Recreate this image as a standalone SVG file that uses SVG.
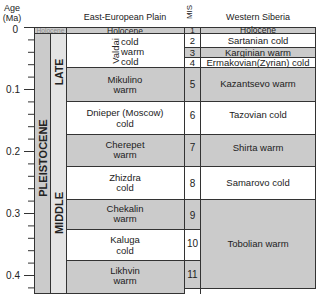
<svg xmlns="http://www.w3.org/2000/svg" width="320" height="298" viewBox="0 0 320 298">
<style>
text{font-family:"Liberation Sans",Arial,sans-serif;fill:#222;font-size:9.5px}
.c{text-anchor:middle}
.g{fill:#cbcbcb;stroke:#333;stroke-width:1}
.w{fill:#fff;stroke:#333;stroke-width:1}
.l{fill:#e4e4e4;stroke:#333;stroke-width:1}
.b{font-weight:bold;font-size:11px}
.t{stroke:#333;stroke-width:1}
.h{font-size:9px}
</style>
<rect width="320" height="298" fill="#fff"/>
<g id="headers">
<text x="12" y="11" class="c h">Age</text>
<text x="12" y="21" class="c h">(Ma)</text>
<text x="125" y="20" class="c h">East-European Plain</text>
<text transform="translate(192,12) rotate(-90)" class="c" style="font-size:8px">MIS</text>
<text x="258" y="20" class="c h">Western Siberia</text>
</g>
<g id="axis">
<line class="t" x1="34.5" y1="27" x2="34.5" y2="294"/>
<path class="t" d="M24 27.5H34M28 39.9H34M28 52.3H34M28 64.7H34M28 77.1H34M24 89.5H34M28 101.9H34M28 114.3H34M28 126.7H34M28 139.1H34M24 151.5H34M28 163.9H34M28 176.3H34M28 188.7H34M28 201.1H34M24 213.5H34M28 225.9H34M28 238.3H34M28 250.7H34M28 263.1H34M24 275.5H34M28 287.9H34"/>
<text x="18" y="33" text-anchor="end" style="font-size:10px">0</text>
<text x="20" y="93" text-anchor="end" style="font-size:10px">0.1</text>
<text x="20" y="155" text-anchor="end" style="font-size:10px">0.2</text>
<text x="20" y="217" text-anchor="end" style="font-size:10px">0.3</text>
<text x="20" y="279" text-anchor="end" style="font-size:10px">0.4</text>
</g>
<g id="epoch">
<rect class="g" x="34.5" y="27.5" width="32" height="6"/>
<text x="50.5" y="32.8" class="c" style="font-size:6.6px;fill:#8a8a8a">Holocene</text>
<rect class="g" x="34.5" y="33.5" width="16" height="260"/>
<text transform="translate(47,158) rotate(-90)" class="c b">PLEISTOCENE</text>
</g>
<g id="subepoch">
<rect class="l" x="50.5" y="33.5" width="16" height="260"/>
<text transform="translate(63,72) rotate(-90)" class="c b" style="font-size:10.5px">LATE</text>
<text transform="translate(63,213) rotate(-90)" class="c b">MIDDLE</text>
</g>
<g id="eep">
<rect class="g" x="66.5" y="27.5" width="118" height="6"/>
<text x="125" y="33.5" class="c" style="font-size:8.5px">Holocene</text>
<rect class="w" x="66.5" y="33.5" width="118" height="34"/>
<text transform="translate(119,51) rotate(-90)" class="c">Valdai</text>
<text x="121" y="45">cold</text>
<text x="121" y="55">warm</text>
<text x="121" y="65">cold</text>
<rect class="g" x="66.5" y="67.5" width="118" height="34"/>
<text x="125" y="83" class="c">Mikulino</text>
<text x="125" y="93" class="c">warm</text>
<rect class="w" x="66.5" y="101.5" width="118" height="33"/>
<text x="125" y="116" class="c">Dnieper (Moscow)</text>
<text x="125" y="127" class="c">cold</text>
<rect class="g" x="66.5" y="134.5" width="118" height="32"/>
<text x="125" y="148" class="c">Cherepet</text>
<text x="125" y="158" class="c">warm</text>
<rect class="w" x="66.5" y="166.5" width="118" height="33"/>
<text x="125" y="181" class="c">Zhizdra</text>
<text x="125" y="191" class="c">cold</text>
<rect class="g" x="66.5" y="199.5" width="118" height="30"/>
<text x="125" y="212" class="c">Chekalin</text>
<text x="125" y="222" class="c">warm</text>
<rect class="w" x="66.5" y="229.5" width="118" height="31"/>
<text x="125" y="243" class="c">Kaluga</text>
<text x="125" y="254" class="c">cold</text>
<rect class="g" x="66.5" y="260.5" width="118" height="33"/>
<text x="125" y="274" class="c">Likhvin</text>
<text x="125" y="284" class="c">warm</text>
</g>
<g id="mis">
<line class="t" x1="184.5" y1="289" x2="184.5" y2="294"/>
<line class="t" x1="200.5" y1="289" x2="200.5" y2="294"/>
<rect class="g" x="184.5" y="27.5" width="16" height="6"/>
<text x="192.5" y="33.3" class="c" style="font-size:8px">1</text>
<rect class="w" x="184.5" y="33.5" width="16" height="14"/>
<text x="192.5" y="44" class="c">2</text>
<rect class="g" x="184.5" y="47.5" width="16" height="10"/>
<text x="192.5" y="56" class="c">3</text>
<rect class="w" x="184.5" y="57.5" width="16" height="10"/>
<text x="192.5" y="66" class="c">4</text>
<rect class="g" x="184.5" y="67.5" width="16" height="34"/>
<text x="192.5" y="88" class="c" style="font-size:10px">5</text>
<rect class="w" x="184.5" y="101.5" width="16" height="33"/>
<text x="192.5" y="119" class="c" style="font-size:10px">6</text>
<rect class="g" x="184.5" y="134.5" width="16" height="32"/>
<text x="192.5" y="151" class="c" style="font-size:10px">7</text>
<rect class="w" x="184.5" y="166.5" width="16" height="33"/>
<text x="192.5" y="187" class="c" style="font-size:10px">8</text>
<rect class="g" x="184.5" y="199.5" width="16" height="30"/>
<text x="192.5" y="219" class="c" style="font-size:10px">9</text>
<rect class="w" x="184.5" y="229.5" width="16" height="31"/>
<text x="192.5" y="247" class="c" style="font-size:10px">10</text>
<rect class="g" x="184.5" y="260.5" width="16" height="28"/>
<text x="192.5" y="278" class="c" style="font-size:10px">11</text>
</g>
<g id="wsib">
<rect class="g" x="200.5" y="27.5" width="115" height="6"/>
<text x="258" y="33.3" class="c" style="font-size:8.5px">Holocene</text>
<rect class="w" x="200.5" y="33.5" width="115" height="14"/>
<text x="258" y="44" class="c">Sartanian cold</text>
<rect class="g" x="200.5" y="47.5" width="115" height="10"/>
<text x="258" y="56" class="c">Karginian warm</text>
<rect class="w" x="200.5" y="57.5" width="115" height="10"/>
<text x="258" y="66" class="c">Ermakovian(Zyrian) cold</text>
<rect class="g" x="200.5" y="67.5" width="115" height="34"/>
<text x="258" y="87" class="c">Kazantsevo warm</text>
<rect class="w" x="200.5" y="101.5" width="115" height="33"/>
<text x="258" y="118" class="c">Tazovian cold</text>
<rect class="g" x="200.5" y="134.5" width="115" height="32"/>
<text x="258" y="151" class="c">Shirta warm</text>
<rect class="w" x="200.5" y="166.5" width="115" height="33"/>
<text x="258" y="186" class="c">Samarovo cold</text>
<rect class="g" x="200.5" y="199.5" width="115" height="89"/>
<text x="258" y="247" class="c">Tobolian warm</text>
</g>
</svg>
